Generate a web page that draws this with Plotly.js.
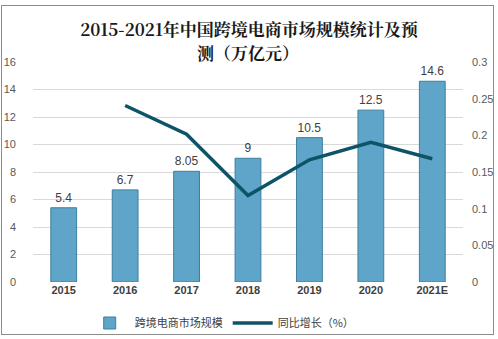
<!DOCTYPE html>
<html><head><meta charset="utf-8">
<script src="https://cdn.plot.ly/plotly-3.0.1.min.js"></script>
<style>
html,body{margin:0;padding:0;background:#fff;}
#wrap{position:relative;width:498px;height:339px;}
#chart{width:498px;height:339px;}
#frame{position:absolute;left:1px;top:5px;width:491px;height:328px;border:1px solid #8c8c8c;pointer-events:none;}
</style></head>
<body><div id="wrap"><div id="chart"></div><div id="frame"></div></div>
<script>
const years = ['2015','2016','2017','2018','2019','2020','2021E'];
const marketSize = [5.4, 6.7, 8.05, 9, 10.5, 12.5, 14.6];
const growthYears = ['2016','2017','2018','2019','2020','2021E'];
const growth = [0.2407, 0.2015, 0.118, 0.1667, 0.1905, 0.168];
const leftTicks = [0,2,4,6,8,10,12,14,16];
const rightTicks = [0,0.05,0.1,0.15,0.2,0.25,0.3];
const titleLine1 = '2015-2021年中国跨境电商市场规模统计及预';
const titleLine2 = '测（万亿元）';

const titleFont = {family:'"Noto Serif CJK SC","Noto Sans CJK SC", serif', size:17, color:'#1a1a1a', weight:'bold'};

const bars = {
  type:'bar', x:years, y:marketSize, name:'跨境电商市场规模',
  width:0.42,
  marker:{color:'#5ea5c9', line:{color:'#3d7f9f', width:1}},
  text:marketSize.map(String), textposition:'outside', cliponaxis:false,
  textfont:{family:'Liberation Sans, Arial, sans-serif', size:12, color:'#404040'},
  hoverinfo:'skip'
};
const line = {
  type:'scatter', mode:'lines', x:growthYears, y:growth, yaxis:'y2', name:'同比增长（%）',
  line:{color:'#0d5468', width:3.5}
};
const layout = {
  width:498, height:339,
  margin:{l:33, r:35, t:62, b:57, autoexpand:false},
  paper_bgcolor:'rgba(0,0,0,0)', plot_bgcolor:'#fff',
  title:{text:titleLine1, x:0.5, xanchor:'center', xref:'container',
    yref:'container', y:1-30/339, yanchor:'middle', font:titleFont},
  annotations:[{text:titleLine2, xref:'paper', yref:'paper', x:0.5, y:(282-52)/220, xanchor:'center', yanchor:'middle',
    showarrow:false, font:titleFont}],
  xaxis:{type:'category', tickfont:{family:'Liberation Sans, Arial, sans-serif', size:11, color:'#404040', weight:'bold'},
    showline:false, ticks:'', showgrid:false},
  yaxis:{range:[0,16], tickvals:leftTicks, ticktext:leftTicks.map(String),
    tickfont:{family:'Liberation Sans, Arial, sans-serif', size:11, color:'#595959'},
    gridcolor:'#d9d9d9', gridwidth:1, zeroline:false, showline:false, ticks:'', ticklabelstandoff:16, automargin:false},
  yaxis2:{overlaying:'y', side:'right', range:[0,0.3], tickvals:rightTicks, ticktext:rightTicks.map(String),
    tickfont:{family:'Liberation Sans, Arial, sans-serif', size:11, color:'#595959'},
    showgrid:false, zeroline:false, showline:false, ticks:'', ticklabelstandoff:8, automargin:false},
  showlegend:true,
  legend:{orientation:'h', x:0.44, xanchor:'center', yref:'container', y:16/339, yanchor:'middle',
    font:{family:'"Noto Sans CJK SC", sans-serif', size:11, color:'#404040'}, itemwidth:40, tracegroupgap:0},
  bargap:0.58
};
Plotly.newPlot('chart',[bars,line],layout,{displayModeBar:false, staticPlot:true});
</script></body></html>
